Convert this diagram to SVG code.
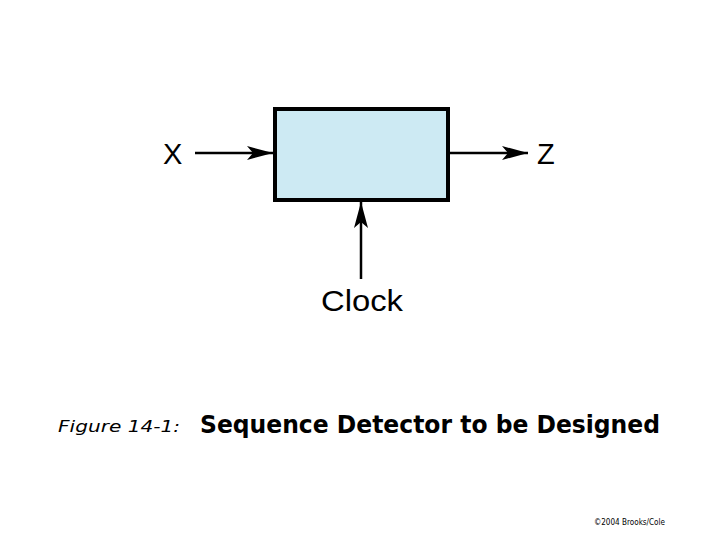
<svg xmlns="http://www.w3.org/2000/svg" width="720" height="540" viewBox="0 0 720 540">
<style>
.lbl{font-family:"Liberation Sans",Arial,sans-serif;font-size:29px;fill:#000}
.ln{stroke:#000;stroke-width:2.5;fill:none}
.cap{font-family:"DejaVu Sans",Verdana,Tahoma,sans-serif;fill:#000}
</style>
<defs>
<marker id="ah" viewBox="0 0 26 14" refX="26" refY="7" markerWidth="26" markerHeight="14" markerUnits="userSpaceOnUse" orient="auto">
<path d="M0,0 L26,7 L0,14 L6,7 Z" fill="#000"/>
</marker>
</defs>
<rect width="720" height="540" fill="#fff"/>
<g id="detector">
<rect x="275" y="109" width="173" height="91" fill="#cdeaf3" stroke="#000" stroke-width="4"/>
</g>
<g id="connectors">
<line class="ln" x1="195" y1="153" x2="273" y2="153" marker-end="url(#ah)"/>
<line class="ln" x1="450" y1="153" x2="528" y2="153" marker-end="url(#ah)"/>
<line class="ln" x1="361" y1="279" x2="361" y2="202" marker-end="url(#ah)"/>
</g>
<g id="labels">
<text class="lbl" x="163" y="164">X</text>
<text class="lbl" x="537" y="164">Z</text>
<text class="lbl" x="321" y="311" font-size="31" textLength="82" lengthAdjust="spacingAndGlyphs">Clock</text>
</g>
<g id="caption">
<text class="cap" x="58" y="432" font-style="italic" font-size="16" textLength="122" lengthAdjust="spacingAndGlyphs">Figure 14-1:</text>
<text class="cap" x="200" y="433" font-weight="bold" font-size="24" textLength="460" lengthAdjust="spacingAndGlyphs">Sequence Detector to be Designed</text>
<text class="cap" x="594" y="525" font-size="8" textLength="71" lengthAdjust="spacingAndGlyphs">©2004 Brooks/Cole</text>
</g>
</svg>
